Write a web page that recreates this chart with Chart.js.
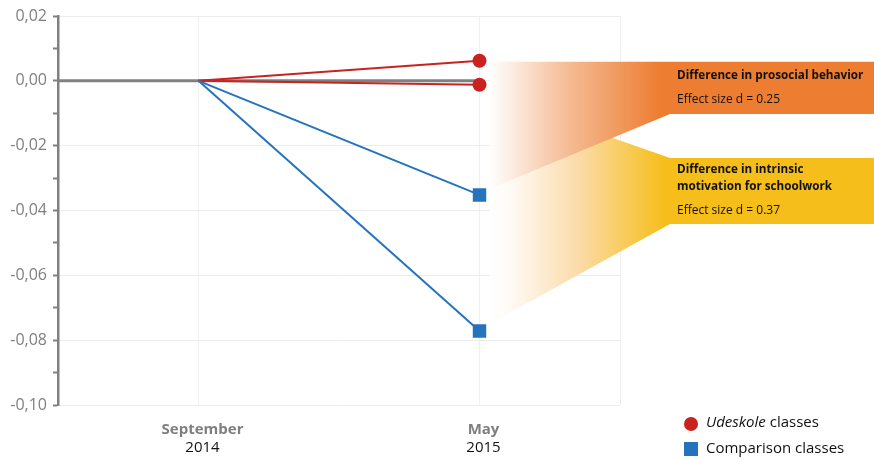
<!DOCTYPE html>
<html>
<head>
<meta charset="utf-8">
<script src="https://cdn.jsdelivr.net/npm/chart.js@4"></script>
<style>
  html, body { margin: 0; padding: 0; background: #fff; }
</style>
</head>
<body>
<canvas id="chart-udeskole" width="874" height="459"></canvas>
<script>
// measurement points
const periods = ['September', 'May'];
const years = ['2014', '2015'];

// change from baseline, per group and outcome
const udeskoleProsocial = [0, 0.0062];
const udeskoleIntrinsic = [0, -0.0012];
const comparisonProsocial = [0, -0.0352];
const comparisonIntrinsic = [0, -0.0772];

const yMin = -0.10;
const yMax = 0.02;

const legendItems = [
    {italic: 'Udeskole', text: ' classes', style: 'circle'},
    {italic: '', text: 'Comparison classes', style: 'rect'}
];

const effectBoxes = [
    {title: ['Difference in prosocial behavior'], effect: 'Effect size d = 0.25'},
    {title: ['Difference in intrinsic', 'motivation for schoolwork'], effect: 'Effect size d = 0.37'}
];

const RED = '#c8231f';
const BLUE = '#2673bd';
const ORANGE = '#ed7d31';
const YELLOW = '#f6be1a';

function fmt(v){
    return v.toFixed(2).replace('.', ',');
}

function isMajor(v){
    return Math.abs(Math.round(v * 100)) % 2 === 0;
}

function band(ctx, pts, stops, x0, x1){
    const g = ctx.createLinearGradient(x0, 0, x1, 0);
    stops.forEach(function(s){ g.addColorStop(s[0], s[1]); });
    ctx.fillStyle = g;
    ctx.beginPath();
    ctx.moveTo(pts[0][0], pts[0][1]);
    for(let i = 1; i < pts.length; ++i){
        ctx.lineTo(pts[i][0], pts[i][1]);
    }
    ctx.closePath();
    ctx.fill();
}

const overlay = {
    id: 'overlay',
    beforeDatasetsDraw(chart){
        const {ctx, chartArea, scales: {x, y}} = chart;
        ctx.save();
        // right frame line
        ctx.strokeStyle = '#eeeeee';
        ctx.lineWidth = 1;
        ctx.beginPath();
        ctx.moveTo(chartArea.right + 0.5, chartArea.top);
        ctx.lineTo(chartArea.right + 0.5, chartArea.bottom);
        ctx.stroke();
        // zero reference line
        const y0 = y.getPixelForValue(0);
        ctx.strokeStyle = '#808080';
        ctx.lineWidth = 3;
        ctx.beginPath();
        ctx.moveTo(chartArea.left, y0);
        ctx.lineTo(x.getPixelForValue(1), y0);
        ctx.stroke();
        ctx.restore();
    },
    afterDatasetsDraw(chart){
        const {ctx, width, scales: {x, y}} = chart;
        const xm = x.getPixelForValue(1) + 10;
        const bx = 670;
        ctx.save();

        // intrinsic motivation band (behind)
        band(ctx, [
            [xm, y.getPixelForValue(udeskoleIntrinsic[1]) + 10],
            [bx, 158], [width, 158], [width, 224], [bx, 224],
            [xm, y.getPixelForValue(comparisonIntrinsic[1]) - 7]
        ], [[0, '#ffffff'], [0.12, '#fffaf6'], [0.5, '#fbdcaa'], [1, YELLOW]], xm, 665);

        // prosocial band
        band(ctx, [
            [xm, y.getPixelForValue(udeskoleProsocial[1]) + 1],
            [width, y.getPixelForValue(udeskoleProsocial[1]) + 1],
            [width, 114], [bx, 114],
            [xm, y.getPixelForValue(comparisonProsocial[1]) - 6]
        ], [[0, '#ffffff'], [0.45, '#f5bd97'], [1, ORANGE]], xm, 660);

        // box texts
        ctx.fillStyle = '#111';
        ctx.textBaseline = 'middle';
        ctx.textAlign = 'left';
        const tops = [76, 170];
        effectBoxes.forEach(function(b, i){
            let ty = tops[i];
            ctx.font = 'bold 11.7px "Open Sans"';
            b.title.forEach(function(line){
                ctx.fillText(line, 677, ty);
                ty += 17;
            });
            ctx.font = '12px "Open Sans"';
            ctx.fillText(b.effect, 677, ty + 7);
        });

        // category labels
        ctx.textAlign = 'center';
        periods.forEach(function(p, i){
            const px = x.getPixelForValue(i) + 4;
            ctx.font = 'bold 15px "Open Sans"';
            ctx.fillStyle = '#7f7f7f';
            ctx.fillText(p, px, 430);
            ctx.font = '15px "Open Sans"';
            ctx.fillStyle = '#111';
            ctx.fillText(years[i], px, 448);
        });

        // legend
        ctx.textAlign = 'left';
        const ly = [423, 449];
        legendItems.forEach(function(it, i){
            if(it.style === 'circle'){
                ctx.fillStyle = RED;
                ctx.beginPath();
                ctx.arc(691, ly[i] + 1, 7, 0, Math.PI * 2);
                ctx.fill();
            } else {
                ctx.fillStyle = BLUE;
                ctx.fillRect(684, ly[i] - 7, 14, 14);
            }
            ctx.fillStyle = '#111';
            let tx = 706;
            if(it.italic){
                ctx.font = 'italic 15px "Open Sans"';
                ctx.fillText(it.italic, tx, ly[i]);
                tx += ctx.measureText(it.italic).width;
            }
            ctx.font = '15px "Open Sans"';
            ctx.fillText(it.text, tx, ly[i]);
        });
        ctx.restore();
    }
};

function serie(data, color, style, radius){
    return {
        data: data,
        borderColor: color,
        backgroundColor: color,
        borderWidth: 2,
        pointStyle: style,
        pointRadius: [0, radius],
        pointHoverRadius: [0, radius],
        pointBorderWidth: 0,
        tension: 0
    };
}

new Chart(document.getElementById('chart-udeskole').getContext('2d'), {
    type: 'line',
    data: {
        labels: periods,
        datasets: [
            serie(comparisonIntrinsic, BLUE, 'rect', 9.5),
            serie(comparisonProsocial, BLUE, 'rect', 9.5),
            serie(udeskoleIntrinsic, RED, 'circle', 7),
            serie(udeskoleProsocial, RED, 'circle', 7)
        ]
    },
    plugins: [overlay],
    options: {
        responsive: false,
        animation: false,
        devicePixelRatio: 1,
        layout: {padding: {top: 16, right: 254, left: 0, bottom: 0}, autoPadding: false},
        plugins: {
            legend: {display: false},
            tooltip: {enabled: false}
        },
        scales: {
            x: {
                offset: true,
                grid: {offset: false, color: '#f0f0f0', drawTicks: false},
                border: {display: false},
                ticks: {display: false},
                afterFit: function(s){ s.height = 54; }
            },
            y: {
                min: yMin,
                max: yMax,
                ticks: {
                    stepSize: 0.01,
                    padding: 6,
                    color: '#7f7f7f',
                    font: {family: '"Open Sans"', size: 16},
                    callback: function(v){ return isMajor(v) ? fmt(v) : ''; }
                },
                grid: {
                    color: function(c){ return isMajor(c.tick.value) ? '#ececec' : 'rgba(0,0,0,0)'; },
                    tickColor: '#808080',
                    tickLength: 5,
                    tickWidth: 2
                },
                border: {color: '#808080', width: 2.5},
                afterFit: function(s){ s.width = 58; }
            }
        }
    }
});
</script>
</body>
</html>
